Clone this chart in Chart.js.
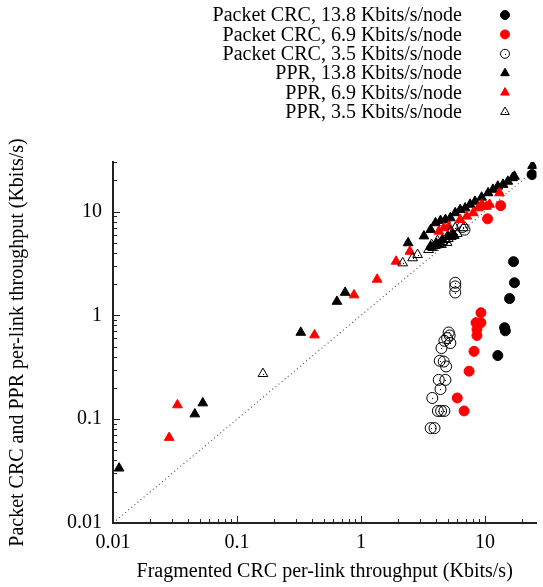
<!DOCTYPE html>
<html>
<head>
<meta charset="utf-8">
<script src="https://cdn.jsdelivr.net/npm/chart.js@4/dist/chart.umd.min.js"></script>
<style>
  html, body { margin: 0; padding: 0; background: #fff; }
  #wrap { width: 543px; height: 587px; }
</style>
</head>
<body>
<div id="wrap"><canvas id="chart"></canvas></div>
<script>
const seriesLabels = [
  "Packet CRC, 13.8 Kbits/s/node",
  "Packet CRC, 6.9 Kbits/s/node",
  "Packet CRC, 3.5 Kbits/s/node",
  "PPR, 13.8 Kbits/s/node",
  "PPR, 6.9 Kbits/s/node",
  "PPR, 3.5 Kbits/s/node",
];
const xTitle = "Fragmented CRC per-link throughput (Kbits/s)";
const yTitle = "Packet CRC and PPR per-link throughput (Kbits/s)";

// Packet CRC, 13.8
const crc138X = [24.0, 17.0, 17.3, 15.8, 14.4, 14.6, 12.7];
const crc138Y = [22.7, 3.29, 2.06, 1.45, 0.76, 0.71, 0.41];
// Packet CRC, 6.9
const crc69X = [13.4, 10.5, 9.28, 8.47, 9.28, 8.62, 8.62, 8.16, 7.45, 5.98, 6.79];
const crc69Y = [11.4, 8.5, 1.06, 0.85, 0.85, 0.73, 0.64, 0.45, 0.29, 0.16, 0.12];
// Packet CRC, 3.5
const crc35X = [5.76, 5.76, 5.76, 5.10, 5.19, 4.95, 4.71, 5.26, 4.46, 4.32, 4.65, 4.86, 4.24, 4.80, 4.38, 3.76, 4.17, 4.43, 4.71, 3.65, 3.92, 6.84, 6.6];
const crc35Y = [2.06, 1.90, 1.66, 0.684, 0.640, 0.604, 0.569, 0.541, 0.484, 0.365, 0.359, 0.322, 0.239, 0.239, 0.195, 0.160, 0.120, 0.120, 0.120, 0.082, 0.082, 6.69, 7.1];
// PPR, 13.8
const ppr138X = [0.0112, 0.0457, 0.053, 0.327, 0.640, 0.745, 2.40, 3.22, 3.65, 3.99, 4.38, 4.80, 5.26, 5.76, 6.31, 6.92, 7.59, 8.31, 9.40, 10.6, 11.6, 12.7, 14.0, 15.3, 16.7, 17.3, 24.2, 3.65, 4.07, 4.54, 5.07, 5.56];
const ppr138Y = [0.0337, 0.112, 0.143, 0.684, 1.36, 1.66, 4.98, 5.8, 6.69, 7.76, 8.17, 8.36, 8.67, 9.70, 10.4, 10.8, 11.7, 12.5, 13.7, 15.1, 16.3, 17.5, 18.2, 19.5, 21.1, 21.8, 27.7, 4.59, 4.90, 5.36, 5.73, 5.98];
// PPR, 6.9
const ppr69X = [0.0284, 0.0331, 0.422, 0.879, 1.35, 1.92, 2.48, 4.25, 4.65, 5.10, 6.31, 7.14, 8.05, 8.83, 9.68, 9.40, 10.3, 10.9, 13.1];
const ppr69Y = [0.0665, 0.137, 0.646, 1.57, 2.22, 3.31, 4.13, 6.44, 6.95, 7.20, 8.36, 9.0, 9.70, 10.8, 11.2, 11.7, 11.2, 11.7, 15.1];
// PPR, 3.5
const ppr35X = [0.162, 2.17, 2.61, 2.86, 5.26, 5.76, 6.71, 3.51, 3.78, 3.99, 4.30, 4.54, 4.80, 5.07, 5.35, 5.66, 5.98, 3.71, 4.14, 4.46, 4.95];
const ppr35Y = [0.274, 3.19, 3.57, 3.84, 6.44, 6.95, 6.95, 4.29, 4.49, 4.69, 4.90, 5.13, 5.36, 5.48, 5.73, 5.86, 6.12, 4.80, 5.24, 4.80, 5.02];

// y = x reference line
const diagX = [0.01, 30];
const diagY = [0.01, 30];

const xMajor = [0.01, 0.1, 1, 10];
const xMajorLabels = ["0.01", "0.1", "1", "10"];
const yMajor = [0.01, 0.1, 1, 10];
const yMajorLabels = ["0.01", "0.1", "1", "10"];

const FONT = '"Liberation Serif", "Times New Roman", serif';
const FONT_SIZE = 20;
Chart.defaults.font.family = FONT;
Chart.defaults.font.size = FONT_SIZE;
Chart.defaults.color = "#000";

function toPts(xs, ys) {
  return xs.map((x, i) => ({ x: x, y: ys[i] }));
}

// all decade + minor positions between lo and hi
function logTicks(lo, hi) {
  const out = [];
  for (let e = -2; e <= 2; e++) {
    for (let m = 1; m <= 9; m++) {
      const v = m * Math.pow(10, e);
      if (v >= lo * 0.999 && v <= hi * 1.001) out.push(v);
    }
  }
  return out;
}

function majorIndex(v, majors) {
  return majors.findIndex((m) => Math.abs(Math.log10(v) - Math.log10(m)) < 1e-6);
}

// tick marks drawn inward, gnuplot style
const innerTicks = {
  id: "innerTicks",
  afterDraw(chart) {
    const c = chart.ctx;
    const xs = chart.scales.x;
    const ys = chart.scales.y;
    const area = chart.chartArea;
    c.save();
    c.strokeStyle = "#222";
    c.lineWidth = 1;
    xs.ticks.forEach((t) => {
      const px = Math.round(xs.getPixelForValue(t.value)) + 0.5;
      const len = majorIndex(t.value, xMajor) >= 0 ? 7 : 4;
      c.beginPath();
      c.moveTo(px, area.bottom);
      c.lineTo(px, area.bottom - len);
      c.stroke();
    });
    ys.ticks.forEach((t) => {
      const py = Math.round(ys.getPixelForValue(t.value)) + 0.5;
      const len = majorIndex(t.value, yMajor) >= 0 ? 7 : 4;
      c.beginPath();
      c.moveTo(area.left - 1, py);
      c.lineTo(area.left + len, py);
      c.stroke();
    });
    c.restore();
  },
};

// small dot in the middle of open markers
const centerDots = {
  id: "centerDots",
  afterDatasetsDraw(chart) {
    const c = chart.ctx;
    c.save();
    c.fillStyle = "#000";
    chart.data.datasets.forEach((ds, i) => {
      if (!ds.centerDot) return;
      chart.getDatasetMeta(i).data.forEach((el) => {
        c.fillRect(Math.round(el.x), Math.round(el.y), 1, 1);
      });
    });
    c.restore();
  },
};

function drawMarker(c, style, fill, stroke, x, y, r) {
  c.beginPath();
  if (style === "circle") {
    c.arc(x, y, r, 0, Math.PI * 2);
  } else {
    let rad = 0;
    c.moveTo(x + Math.sin(rad) * r, y - Math.cos(rad) * r);
    rad += (Math.PI * 2) / 3;
    c.lineTo(x + Math.sin(rad) * r, y - Math.cos(rad) * r);
    rad += (Math.PI * 2) / 3;
    c.lineTo(x + Math.sin(rad) * r, y - Math.cos(rad) * r);
    c.closePath();
  }
  if (fill !== "transparent") {
    c.fillStyle = fill;
    c.fill();
  }
  c.strokeStyle = stroke;
  c.lineWidth = 1;
  c.stroke();
}

// legend top right: right-aligned text, marker to the right
const sideLegend = {
  id: "sideLegend",
  afterDraw(chart) {
    const c = chart.ctx;
    c.save();
    c.font = FONT_SIZE + "px " + FONT;
    c.textAlign = "right";
    c.textBaseline = "middle";
    c.fillStyle = "#000";
    let row = 0;
    chart.data.datasets.forEach((ds) => {
      if (!ds.inLegend) return;
      const y = 15 + row * 19.4;
      c.fillText(ds.label, 462, y + 1);
      const r = ds.pointStyle === "circle" ? 4.5 : 5;
      drawMarker(c, ds.pointStyle, ds.pointBackgroundColor, ds.pointBorderColor, 505, y, r);
      if (ds.centerDot) c.fillRect(505, Math.round(y), 1, 1);
      c.fillStyle = "#000";
      row++;
    });
    c.restore();
  },
};

// rotated y title, centred on the plot area
const yTitleDraw = {
  id: "yTitleDraw",
  afterDraw(chart) {
    const c = chart.ctx;
    const area = chart.chartArea;
    c.save();
    c.font = FONT_SIZE + "px " + FONT;
    c.fillStyle = "#000";
    c.textAlign = "center";
    c.textBaseline = "middle";
    c.translate(18, (area.top + area.bottom) / 2);
    c.rotate(-Math.PI / 2);
    c.fillText(yTitle, 0, 0);
    c.restore();
  },
};

function series(label, xs, ys, style, fill, stroke, r, order, dot) {
  return {
    label: label,
    data: toPts(xs, ys),
    pointStyle: style,
    pointRadius: r,
    pointHoverRadius: r,
    pointBackgroundColor: fill,
    pointBorderColor: stroke,
    pointBorderWidth: 1,
    showLine: false,
    order: order,
    inLegend: true,
    centerDot: dot,
  };
}

new Chart(document.getElementById("chart"), {
  type: "scatter",
  data: {
    datasets: [
      series(seriesLabels[0], crc138X, crc138Y, "circle", "#000", "#000", 5, 6, false),
      series(seriesLabels[1], crc69X, crc69Y, "circle", "#ff0000", "#ff0000", 5, 5, false),
      series(seriesLabels[2], crc35X, crc35Y, "circle", "transparent", "#000", 5.5, 4, true),
      series(seriesLabels[3], ppr138X, ppr138Y, "triangle", "#000", "#000", 5.6, 3, false),
      series(seriesLabels[4], ppr69X, ppr69Y, "triangle", "#ff0000", "#ff0000", 5.6, 2, false),
      series(seriesLabels[5], ppr35X, ppr35Y, "triangle", "transparent", "#000", 5.6, 1, true),
      {
        label: "y = x",
        data: toPts(diagX, diagY),
        showLine: true,
        borderColor: "#555",
        borderWidth: 1.2,
        borderDash: [1, 3],
        pointRadius: 0,
        order: 7,
        inLegend: false,
      },
    ],
  },
  options: {
    responsive: true,
    maintainAspectRatio: false,
    animation: false,
    events: [],
    layout: { padding: { top: 162, right: 0, bottom: 0, left: 0 } },
    plugins: {
      legend: { display: false },
      tooltip: { enabled: false },
    },
    scales: {
      x: {
        type: "logarithmic",
        min: 0.01,
        max: 26,
        afterBuildTicks: (s) => {
          s.ticks = logTicks(0.01, 26).map((v) => ({ value: v }));
        },
        afterFit: (s) => {
          s.height = 64;
        },
        grid: { display: false, drawTicks: false },
        border: { display: true, color: "#222", width: 2 },
        ticks: {
          autoSkip: false,
          maxRotation: 0,
          padding: 8,
          color: "#000",
          callback: (v) => {
            const i = majorIndex(v, xMajor);
            return i >= 0 ? xMajorLabels[i] : "";
          },
        },
        title: {
          display: true,
          text: xTitle,
          color: "#000",
          padding: { top: 0, bottom: 3 },
        },
      },
      y: {
        type: "logarithmic",
        min: 0.01,
        max: 30,
        afterBuildTicks: (s) => {
          s.ticks = logTicks(0.01, 30).map((v) => ({ value: v }));
        },
        afterFit: (s) => {
          s.width = 113;
        },
        grid: { display: false, drawTicks: false },
        border: { display: true, color: "#222", width: 2 },
        ticks: {
          autoSkip: false,
          padding: 11,
          color: "#000",
          callback: (v) => {
            const i = majorIndex(v, yMajor);
            return i >= 0 ? yMajorLabels[i] : "";
          },
        },
      },
    },
  },
  plugins: [innerTicks, centerDots, sideLegend, yTitleDraw],
});
</script>
</body>
</html>
